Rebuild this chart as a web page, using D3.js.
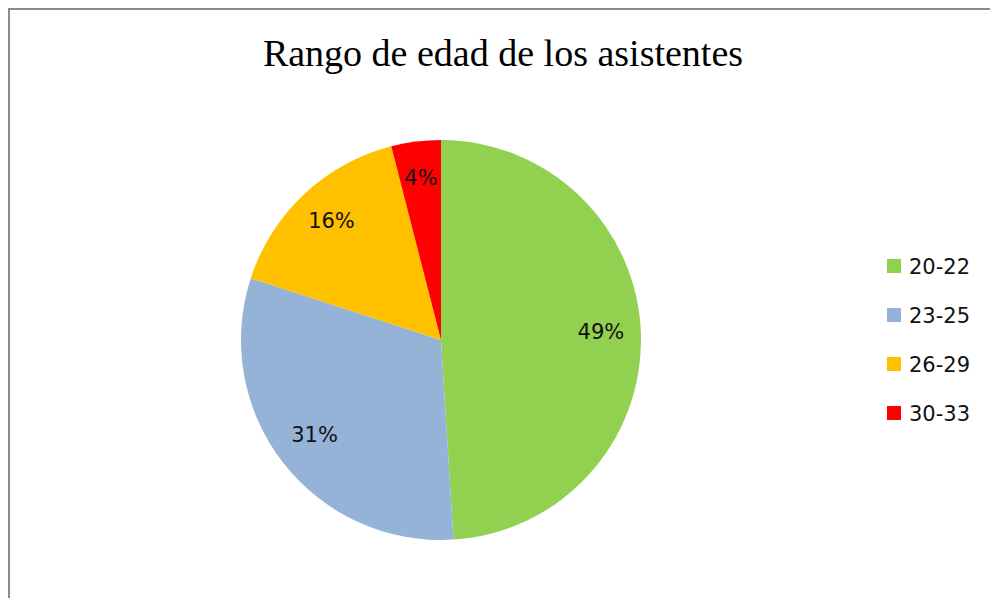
<!DOCTYPE html>
<html>
<head>
<meta charset="utf-8">
<script src="https://cdn.jsdelivr.net/npm/d3@7"></script>
<style>
  html, body { margin: 0; padding: 0; background: #fff; }
  svg { display: block; }
</style>
</head>
<body>
<div id="chart"></div>
<script>
// chart data
const titleText = "Rango de edad de los asistentes";
const categories = ["20-22", "23-25", "26-29", "30-33"];
const values = [49, 31, 16, 4];
const colors = ["#92d050", "#95b3d7", "#ffc000", "#ff0000"];

const width = 990, height = 598;
const cx = 441, cy = 340, radius = 200;

const svg = d3.select("#chart").append("svg")
    .attr("width", width)
    .attr("height", height);

svg.append("rect")
    .attr("width", width).attr("height", height)
    .attr("fill", "#fff");

// frame (only top and left edges are visible in the crop)
svg.append("path")
    .attr("d", "M9,598V9H990")
    .attr("fill", "none")
    .attr("stroke", "#8c8c8c")
    .attr("stroke-width", 2);

svg.append("text")
    .attr("x", 503)
    .attr("y", 66)
    .attr("text-anchor", "middle")
    .attr("font-family", "'Liberation Serif', 'Times New Roman', serif")
    .attr("font-size", 38)
    .attr("fill", "#000")
    .text(titleText);

const data = categories.map((c, i) => ({ cat: c, value: values[i], color: colors[i] }));

const pie = d3.pie().sort(null).value(d => d.value);
const arc = d3.arc().innerRadius(0).outerRadius(radius);
const labelArc = d3.arc().innerRadius(radius * 0.8).outerRadius(radius * 0.8);

const g = svg.append("g").attr("transform", "translate(" + cx + "," + cy + ")");

const slices = pie(data);

g.selectAll("path.slice")
    .data(slices)
    .enter().append("path")
    .attr("class", "slice")
    .attr("d", arc)
    .attr("fill", d => d.data.color);

g.selectAll("text.lbl")
    .data(slices)
    .enter().append("text")
    .attr("class", "lbl")
    .attr("transform", d => "translate(" + labelArc.centroid(d) + ")")
    .attr("text-anchor", "middle")
    .attr("dy", "0.2em")
    .attr("font-family", "'DejaVu Sans', Verdana, sans-serif")
    .attr("font-size", 21)
    .attr("fill", "#111")
    .text(d => d.data.value + "%");

// legend
const legendY = d3.scalePoint().domain(categories).range([266, 413]);

const legend = svg.append("g");

legend.selectAll("rect")
    .data(data)
    .enter().append("rect")
    .attr("x", 887)
    .attr("y", d => legendY(d.cat) - 7)
    .attr("width", 14)
    .attr("height", 14)
    .attr("fill", d => d.color);

legend.selectAll("text")
    .data(data)
    .enter().append("text")
    .attr("x", 909)
    .attr("y", d => legendY(d.cat))
    .attr("dy", "0.36em")
    .attr("font-family", "'DejaVu Sans', Verdana, sans-serif")
    .attr("font-size", 21)
    .attr("fill", "#111")
    .text(d => d.cat);
</script>
</body>
</html>
